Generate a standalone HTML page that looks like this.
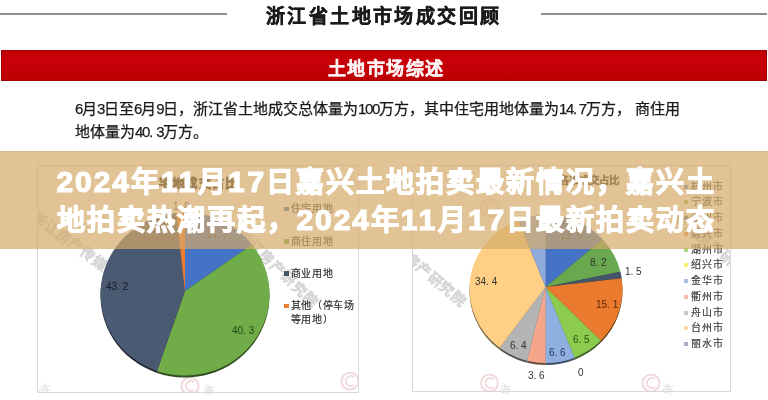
<!DOCTYPE html>
<html lang="zh-CN">
<head>
<meta charset="utf-8">
<title>2024年11月17日嘉兴土地拍卖最新情况</title>
<style>
html,body{margin:0;padding:0;background:#fff;}
body{width:768px;height:400px;overflow:hidden;position:relative;will-change:transform;font-family:"Liberation Sans",sans-serif;}
.a{position:absolute;white-space:nowrap;}
#t1{left:266px;top:2.5px;font-size:19px;font-weight:bold;color:#1b1b1b;line-height:28px;letter-spacing:2.4px;-webkit-text-stroke:0.45px #1b1b1b;}
.hl{position:absolute;height:2px;background:#8f8f8f;}
#red{left:1px;top:50px;width:766px;height:31px;background:linear-gradient(#bd0000,#c8000a 30%,#c50006 70%,#bb0000);box-sizing:border-box;border:1px solid #a00000;}
#t2{left:328px;top:55px;font-size:18px;font-weight:bold;color:#fff4f4;line-height:28px;letter-spacing:1.4px;-webkit-text-stroke:0.4px #fff4f4;}
.body{font-size:15px;color:#1a1a1a;line-height:22px;-webkit-text-stroke:0.25px #1a1a1a;}
.n{letter-spacing:-1.3px;}
.panel{position:absolute;border:1px solid #d9d9d9;box-sizing:border-box;overflow:hidden;}
.lg{position:absolute;font-size:10px;color:#2a2a2a;white-space:nowrap;line-height:13.6px;letter-spacing:0.7px;-webkit-text-stroke:0.15px #2a2a2a;}
#lgR{font-size:10px;color:#383838;letter-spacing:1.1px;-webkit-text-stroke:0.15px #383838;}
#lgR i{opacity:0.75;}
.lg i{display:inline-block;width:5px;height:4.5px;margin-right:1.5px;vertical-align:1px;}
#lgR i{width:4.4px;height:4px;margin-right:2.4px;}
.wm{position:absolute;white-space:nowrap;font-size:14px;font-weight:bold;color:transparent;-webkit-text-stroke:0.6px #d6d6d6;transform-origin:0 0;letter-spacing:1px;}
.wm2{position:absolute;white-space:nowrap;font-size:11px;color:#d8d8d8;transform:rotate(20deg);}
.dl{position:absolute;font-size:10px;white-space:nowrap;line-height:12px;}
#ov{left:0;top:150.8px;width:768px;height:97.8px;background:rgba(212,169,105,0.7);box-shadow:inset 0 1px 0 rgba(200,190,150,0.6);}
.big{font-size:28px;letter-spacing:2px;font-weight:bold;color:#fff;line-height:38px;left:56.5px;-webkit-text-stroke:1.2px #fff;}
.big .d{font-size:30px;letter-spacing:1.88px;}
.big .d1{letter-spacing:2.75px;}
</style>
</head>
<body>
<div class="hl" style="left:0;top:13px;width:227px"></div>
<div class="hl" style="left:541px;top:13px;width:226px"></div>
<div id="t1" class="a">浙江省土地市场成交回顾</div>
<div id="red" class="a"></div>
<div id="t2" class="a">土地市场综述</div>
<div id="p1" class="a body" style="left:75px;top:98px"><span id="p1a"><span class="n">6</span>月<span class="n">3</span>日至<span class="n">6</span>月<span class="n">9</span>日，</span></div>
<div id="p1b" class="a body" style="left:193px;top:98px">浙江省土地成交总体量为<span class="n">100</span>万方，</div>
<div id="p1c" class="a body" style="left:424px;top:98px">其中住宅用地体量为<span class="n">14. 7</span>万方，</div>
<div id="p1d" class="a body" style="left:635px;top:98px">商住用</div>
<div id="p2" class="a body" style="left:75px;top:121px">地体量为<span class="n">40.</span> <span class="n">3</span>万方。</div>

<div class="panel" style="left:37px;top:165px;width:322px;height:228px">
<div class="wm" style="left:2px;top:40px;transform:rotate(36deg)">浙江房产传媒研究院</div>
<div class="wm" style="left:210px;top:58px;transform:rotate(44deg)">浙江房产研究院</div>
</div>
<div class="panel" style="left:412px;top:165px;width:319px;height:227px">
<div class="wm" style="left:-22px;top:62px;transform:rotate(40deg)">浙江房产研究院</div>
<div class="wm" style="left:270px;top:40px;transform:rotate(40deg)">浙江房产研究院</div>
</div>

<svg class="a" style="left:0;top:0" width="768" height="400" viewBox="0 0 768 400" fill="none" stroke="#f2d9dc" stroke-width="2">
<defs><clipPath id="pc"><rect x="38" y="166" width="320" height="226"/><rect x="413" y="166" width="317" height="225"/></clipPath></defs>
<g clip-path="url(#pc)">
<circle cx="190" cy="386" r="8.5"/><path d="M194 382a5 5 0 1 0 0 8"/>
<circle cx="350" cy="381" r="8.5"/><path d="M354 377a5 5 0 1 0 0 8"/>
<circle cx="489.5" cy="383" r="8.5"/><path d="M493.5 379a5 5 0 1 0 0 8"/>
<circle cx="651" cy="383" r="8.5"/><path d="M655 379a5 5 0 1 0 0 8"/>
<circle cx="490" cy="208" r="8.5"/><path d="M494 204a5 5 0 1 0 0 8"/>
<text x="38" y="391" font-size="11" fill="#dcdcdc" stroke="none" transform="rotate(20 38 391)">浙</text>
</g></svg>
<div class="wm2" style="left:203px;top:381px">浙</div>
<div class="wm2" style="left:500px;top:380px">浙</div>
<div class="wm2" style="left:662px;top:380px">浙</div>
<svg class="a" style="left:0;top:0" width="768" height="400" viewBox="0 0 768 400">
 <g id="pieL"><path d="M185 293L185.00 214.50A84.5 81.5 0 0 1 252.05 246.40Z" fill="#1e3358"/><path d="M185 293L252.05 246.40A84.5 81.5 0 0 1 157.02 372.90Z" fill="#324d20"/><path d="M185 293L157.02 372.90A84.5 81.5 0 0 1 176.24 214.94Z" fill="#212833"/><path d="M185 293L176.24 214.94A84.5 81.5 0 0 1 185.00 214.50Z" fill="#6a3816"/><path d="M185 291L185.00 212.50A84.5 81.5 0 0 1 252.05 244.40Z" fill="#4472c4"/><path d="M185 291L252.05 244.40A84.5 81.5 0 0 1 157.02 370.90Z" fill="#70ac48"/><path d="M185 291L157.02 370.90A84.5 81.5 0 0 1 176.24 212.94Z" fill="#4b5a73"/><path d="M185 291L176.24 212.94A84.5 81.5 0 0 1 185.00 212.50Z" fill="#ed7d31"/></g>
 <g id="pieR"><path d="M545.5 289L545.50 217.00A76.5 74 0 0 1 602.53 241.14Z" fill="#1e3358"/><path d="M545.5 289L602.53 241.14A76.5 74 0 0 1 620.40 273.76Z" fill="#2f4b23"/><path d="M545.5 289L620.40 273.76A76.5 74 0 0 1 621.70 280.32Z" fill="#1e252f"/><path d="M545.5 289L621.70 280.32A76.5 74 0 0 1 600.92 342.52Z" fill="#683614"/><path d="M545.5 289L600.92 342.52A76.5 74 0 0 1 574.61 359.63Z" fill="#3f5b23"/><path d="M545.5 289L574.61 359.63A76.5 74 0 0 1 545.50 365.00Z" fill="#404e64"/><path d="M545.5 289L545.50 365.00A76.5 74 0 0 1 527.12 362.71Z" fill="#6d4a3e"/><path d="M545.5 289L527.12 362.71A76.5 74 0 0 1 499.64 349.86Z" fill="#515151"/><path d="M545.5 289L499.64 349.86A76.5 74 0 0 1 518.42 221.98Z" fill="#725d3c"/><path d="M545.5 289L518.42 221.98A76.5 74 0 0 1 545.50 217.00Z" fill="#404c63"/><path d="M545.5 287L545.50 215.00A76.5 74 0 0 1 602.53 239.14Z" fill="#4472c4"/><path d="M545.5 287L602.53 239.14A76.5 74 0 0 1 620.40 271.76Z" fill="#6aa84f"/><path d="M545.5 287L620.40 271.76A76.5 74 0 0 1 621.70 278.32Z" fill="#44546a"/><path d="M545.5 287L621.70 278.32A76.5 74 0 0 1 600.92 340.52Z" fill="#e97a2e"/><path d="M545.5 287L600.92 340.52A76.5 74 0 0 1 574.61 357.63Z" fill="#8ccb4e"/><path d="M545.5 287L574.61 357.63A76.5 74 0 0 1 545.50 363.00Z" fill="#8fafe0"/><path d="M545.5 287L545.50 363.00A76.5 74 0 0 1 527.12 360.71Z" fill="#f4a58a"/><path d="M545.5 287L527.12 360.71A76.5 74 0 0 1 499.64 347.86Z" fill="#b4b4b4"/><path d="M545.5 287L499.64 347.86A76.5 74 0 0 1 518.42 219.98Z" fill="#ffcf86"/><path d="M545.5 287L518.42 219.98A76.5 74 0 0 1 545.50 215.00Z" fill="#8faadc"/></g>
</svg>

<div class="a" style="left:159px;top:172.5px;font-size:12.5px;font-weight:bold;color:#1e1e1e;letter-spacing:0.2px;-webkit-text-stroke:0.5px #1e1e1e">宅地成交占比</div>
<div class="a" style="left:559px;top:172px;font-size:10.5px;font-weight:bold;color:#333;-webkit-text-stroke:0.3px #333">各市成交占比</div>

<div id="lgL1" class="lg" style="left:284px;top:202.2px"><i style="background:#4472c4"></i>住宅用地</div>
<div id="lgL2" class="lg" style="left:284px;top:234.5px"><i style="background:#70ad47"></i>商住用地</div>
<div id="lgL3" class="lg" style="left:284px;top:266.8px"><i style="background:#44546a"></i>商业用地</div>
<div id="lgL4" class="lg" style="left:284px;top:299.3px"><i style="background:#ed7d31"></i>其他（停车场<br><span style="padding-left:6.5px">等用地）</span></div>

<div id="lgR" class="lg" style="left:684px;top:178.5px;line-height:15.77px">
<i style="background:#4472c4"></i>杭州市<br>
<i style="background:#70ad47"></i>宁波市<br>
<i style="background:#44546a"></i>温州市<br>
<i style="background:#ed7d31"></i>嘉兴市<br>
<i style="background:#8fce55"></i>湖州市<br>
<i style="background:#ffe840"></i>绍兴市<br>
<i style="background:#8faadc"></i>金华市<br>
<i style="background:#f4a58a"></i>衢州市<br>
<i style="background:#b4b4b4"></i>舟山市<br>
<i style="background:#ffd08a"></i>台州市<br>
<i style="background:#8496b0"></i>丽水市</div>

<div class="dl" style="left:106px;top:281px;color:#141a28">43. 2</div>
<div class="dl" style="left:232px;top:325px;color:#1e4a10">40. 3</div>
<div class="dl" style="left:173px;top:200.5px;color:#404040">1. 8</div>
<div class="dl" style="left:206px;top:229px;color:#404040">14. 7</div>

<div class="dl" style="left:590px;top:257px;color:#333">8. 2</div>
<div class="dl" style="left:625px;top:266px;color:#333">1. 5</div>
<div class="dl" style="left:596px;top:299px;color:#5a2a08">15. 1</div>
<div class="dl" style="left:573px;top:334px;color:#2a5218">6. 5</div>
<div class="dl" style="left:578px;top:366.5px;color:#333">0</div>
<div class="dl" style="left:549px;top:346.5px;color:#1f3864">6. 6</div>
<div class="dl" style="left:528px;top:369.5px;color:#333">3. 6</div>
<div class="dl" style="left:510px;top:340px;color:#333">6. 4</div>
<div class="dl" style="left:475px;top:276px;color:#333">34. 4</div>
<div class="dl" style="left:560px;top:230px;color:#333">13. 6</div>

<div id="ov" class="a"></div>
<div id="b1" class="a big" style="top:163px"><span class="d">2024</span>年<span class="d d1">11</span>月<span class="d d1">1</span><span class="d">7</span>日嘉兴土地拍卖最新情况，嘉兴土</div>
<div id="b2" class="a big" style="top:201px">地拍卖热潮再起，<span class="d">2024</span>年<span class="d d1">11</span>月<span class="d d1">1</span><span class="d">7</span>日最新拍卖动态</div>
</body>
</html>
